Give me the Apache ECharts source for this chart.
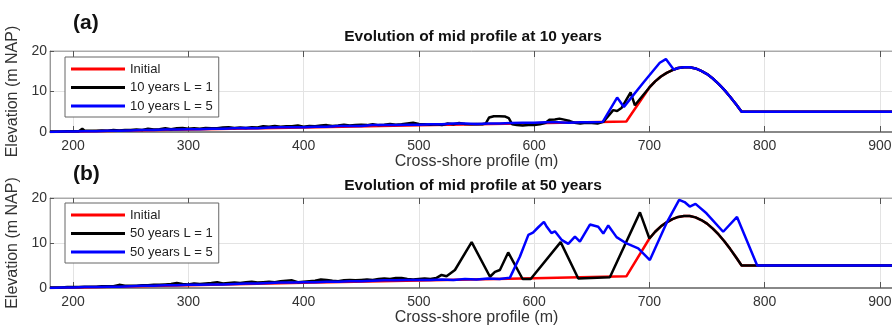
<!DOCTYPE html>
<html>
<head>
<meta charset="utf-8">
<script src="https://cdn.jsdelivr.net/npm/echarts@6/dist/echarts.min.js"></script>
<style>
html,body{margin:0;padding:0;background:#fff;}
#chart{width:892px;height:326px;}
</style>
</head>
<body>
<div id="chart"></div>
<script>
var xTicks=[200,300,400,500,600,700,800,900];
var namesA=['Initial','10 years L = 1','10 years L = 5'];
var namesB=['Initial','50 years L = 1','50 years L = 5'];

// dune crest, shared by the initial profile
var dune=[[700,11.0],[705,12.5],[710,13.7],[715,14.6],[720,15.3],[725,15.8],[730,16.0],[735,16.0],
    [740,15.7],[745,15.1],[750,14.3],[755,13.2],[760,11.9],[765,10.4],[770,8.7],[775,6.9],[780,5.0],[920,5.0]];
var duneFrom725=[[725,15.8],[730,16.0],[735,16.0],[740,15.7],[745,15.1],[750,14.3],[755,13.2],[760,11.9],
    [765,10.4],[770,8.7],[775,6.9],[780,5.0],[920,5.0]];

var initialLow=[[180,0.0],[300,0.62],[400,1.14],[500,1.66],[600,2.18],[680,2.6]];

var black10=[[180,0.1],[185,0.1],[190,0.1],[195,0.2],[200,0.2],[205,0.2],[208,0.8],[210,0.3],[215,0.3],[220,0.3],
    [225,0.4],[230,0.3],[235,0.5],[240,0.4],[245,0.5],[250,0.5],[255,0.6],[260,0.5],[265,0.8],[270,0.6],
    [275,0.7],[280,0.9],[285,0.7],[290,0.9],[295,1.0],[300,0.8],[305,0.9],[310,0.8],[315,1.0],[320,0.9],
    [325,0.9],[330,1.1],[335,1.2],[340,1.0],[345,1.1],[350,1.0],[355,1.2],[360,1.1],[365,1.4],[370,1.3],
    [375,1.5],[380,1.3],[385,1.4],[390,1.4],[395,1.6],[400,1.3],[405,1.5],[410,1.4],[415,1.6],[420,1.7],
    [425,1.5],[430,1.6],[435,1.8],[440,1.6],[445,1.7],[450,1.8],[455,1.7],[460,1.9],[465,1.7],[470,1.8],
    [475,2.0],[480,1.8],[485,1.9],[490,2.1],[495,2.3],[500,2.0],[505,1.9],[510,1.8],[515,1.9],[520,1.7],
    [525,2.1],[530,1.9],[535,2.2],[540,2.0],[545,1.9],[550,2.0],[555,1.9],[558,2.1],[561,3.6],[565,3.9],
    [570,3.9],[575,3.8],[578,3.4],[581,1.9],[585,1.7],[590,1.6],[595,1.7],[600,1.7],[605,1.9],[610,2.3],
    [613,3.0],[618,3.1],[622,3.3],[627,3.0],[631,2.7],[635,2.3],[640,2.1],[645,2.3],[650,2.2],[655,2.1],
    [660,2.5],[668.6,5.4],[672,5.2],[676,6.0],[683.7,9.8],[687.4,6.6]];

var blue10=[[180,0.0],[190,0.1],[200,0.1],[210,0.2],[220,0.2],[230,0.3],[240,0.3],[250,0.4],[260,0.5],[270,0.5],
    [280,0.6],[290,0.6],[300,0.7],[310,0.7],[320,0.8],[330,0.8],[340,0.9],[350,1.0],[360,0.9],[370,1.1],
    [380,1.2],[390,1.2],[400,1.2],[410,1.3],[420,1.3],[430,1.5],[440,1.5],[450,1.5],[460,1.7],[470,1.7],
    [480,1.7],[490,1.8],[500,1.8],[510,1.9],[520,1.9],[530,2.1],[540,2.1],[550,2.0],[560,2.1],[570,2.1],
    [580,2.2],[590,2.3],[600,2.3],[610,2.4],[620,2.4],[630,2.3],[640,2.4],[650,2.4],[659.5,2.5],
    [672,8.5],[677.9,6.2],[695,12.3],[709,17.1],[714.3,18.0],[715.7,18.4],[721.2,15.4]];

var black50=[[180,0.1],[185,0.1],[190,0.1],[195,0.2],[200,0.2],[205,0.2],[210,0.3],[215,0.3],[220,0.3],[225,0.4],
    [230,0.4],[235,0.4],[240,0.7],[245,0.5],[250,0.5],[255,0.5],[260,0.6],[265,0.6],[270,0.7],[275,0.7],
    [280,0.8],[285,0.9],[290,1.1],[295,0.9],[300,0.8],[305,1.0],[310,0.9],[315,1.0],[320,1.1],[325,1.3],
    [330,1.0],[335,1.1],[340,1.2],[345,1.1],[350,1.3],[355,1.4],[360,1.2],[365,1.3],[370,1.4],[375,1.3],
    [380,1.5],[385,1.6],[390,1.7],[395,1.3],[400,1.4],[405,1.5],[410,1.6],[415,1.9],[420,1.8],[425,1.6],
    [430,1.5],[435,1.7],[440,1.8],[445,1.7],[450,1.8],[455,1.9],[460,1.8],[465,2.0],[470,2.1],[475,2.0],
    [480,2.2],[485,2.2],[490,2.0],[495,1.9],[500,2.0],[505,2.1],[510,2.0],[515,2.2],
    [519.7,2.9],[524,2.6],[531.3,4.0],[545.8,10.2],[561.7,2.5],[566,3.6],[570.3,4.0],[577.5,7.9],[590,2.0],
    [597,2.0],[623,10.2],[638.3,2.1],[665.7,2.4],[691.8,16.8]];

var blue50=[[180,0.0],[190,0.1],[200,0.1],[210,0.2],[220,0.2],[230,0.3],[240,0.3],[250,0.4],[260,0.5],[270,0.5],
    [280,0.6],[290,0.6],[300,0.7],[310,0.7],[320,0.8],[330,0.8],[340,0.9],[350,1.0],[360,1.0],[370,1.1],
    [380,1.2],[390,1.2],[400,1.3],[410,1.3],[420,1.4],[430,1.4],[440,1.5],[450,1.5],[460,1.6],[470,1.7],
    [480,1.7],[490,1.8],[500,1.8],[510,1.8],[520,1.9],[530,1.8],[540,2.0],[550,1.9],[560,2.1],[570,2.0],
    [579,2.3],[587.7,7.0],[595,11.8],[599,12.3],[603.6,13.5],[608.5,14.7],[611,13.6],[615,12.2],[618,12.6],
    [623.8,10.7],[629.6,9.8],[635.4,11.4],[639.7,10.3],[648.4,14.1],[655.6,13.6],[660,12.1],[664.3,13.9],
    [671.5,11.3],[680.2,9.9],[690.3,8.8],[700.4,6.2],[714.8,14.4],[725.8,19.6],[730.5,19.1],[735,18.1],
    [740,18.7],[749.5,16.6],[764,12.5],[776,15.8],[793.5,5.0],[920,5.0]];

var FONT='Liberation Sans';
var TXT='#333';

function bottomAxis(gi){
    return {
        type:'value', gridIndex:gi, position:'bottom', min:180, max:920,
        name:'Cross-shore profile (m)', nameLocation:'middle', nameGap:22,
        nameTextStyle:{fontFamily:FONT,fontSize:16,color:TXT},
        axisLine:{lineStyle:{color:'#888',width:2}},
        axisTick:{inside:true,length:6,customValues:xTicks,lineStyle:{color:'#555',width:1}},
        axisLabel:{customValues:xTicks,margin:7,fontFamily:FONT,fontSize:14,color:TXT},
        splitLine:{show:true,lineStyle:{color:'#e3e3e3',width:1}}
    };
}
function topAxis(gi){
    return {
        type:'value', gridIndex:gi, position:'top', min:180, max:920,
        axisLine:{lineStyle:{color:'#aaa',width:1}},
        axisTick:{inside:true,length:6,customValues:xTicks,lineStyle:{color:'#555',width:1}},
        axisLabel:{show:false},
        splitLine:{show:false}
    };
}
function leftAxis(gi){
    return {
        type:'value', gridIndex:gi, min:0, max:20, interval:10,
        name:'Elevation (m NAP)', nameLocation:'middle', nameGap:23,
        nameTextStyle:{fontFamily:FONT,fontSize:16,color:TXT},
        axisLine:{show:true,lineStyle:{color:'#999'}},
        axisTick:{show:true,inside:true,length:4,lineStyle:{color:'#555'}},
        axisLabel:{margin:3,fontFamily:FONT,fontSize:14,color:TXT},
        splitLine:{show:true,lineStyle:{color:'#e3e3e3',width:1}}
    };
}
function line(name,data,color,xi,yi){
    return {
        name:name, type:'line', data:data, xAxisIndex:xi, yAxisIndex:yi,
        showSymbol:false, symbol:'none', color:color,
        lineStyle:{color:color,width:2.5}, animation:false
    };
}
function legendBox(names,top){
    return {
        data:names, orient:'vertical', left:65, top:top, icon:'rect',
        itemWidth:54, itemHeight:3, itemGap:4.5, padding:[5,6,4,6],
        backgroundColor:'#fff', borderColor:'#666', borderWidth:1, borderRadius:0,
        textStyle:{fontFamily:FONT,fontSize:13,color:'#222',lineHeight:14}
    };
}

var option={
    backgroundColor:'#fff',
    animation:false,
    grid:[
        {left:50,top:51,width:853,height:81,show:true,borderColor:'#aaa',borderWidth:1,outerBoundsMode:'none',containLabel:false},
        {left:50,top:198,width:853,height:90,show:true,borderColor:'#aaa',borderWidth:1,outerBoundsMode:'none',containLabel:false}
    ],
    xAxis:[bottomAxis(0),topAxis(0),bottomAxis(1),topAxis(1)],
    yAxis:[leftAxis(0),leftAxis(1)],
    legend:[legendBox(namesA,57),legendBox(namesB,203)],
    graphic:[
        {type:'text',left:73,top:13,style:{text:'(a)',font:'bold 21px "Liberation Sans"',fill:'#111'}},
        {type:'text',x:473,y:37,style:{text:'Evolution of mid profile at 10 years',font:'bold 15.5px "Liberation Sans"',fill:'#111',align:'center',verticalAlign:'middle'}},
        {type:'text',left:73,top:164,style:{text:'(b)',font:'bold 21px "Liberation Sans"',fill:'#111'}},
        {type:'text',x:473,y:186,style:{text:'Evolution of mid profile at 50 years',font:'bold 15.5px "Liberation Sans"',fill:'#111',align:'center',verticalAlign:'middle'}}
    ],
    series:[
        line(namesA[0],initialLow.concat(dune),'#ff0000',0,0),
        line(namesA[1],black10.concat(dune),'#000000',0,0),
        line(namesA[2],blue10.concat(duneFrom725),'#0000ff',0,0),
        line(namesB[0],initialLow.concat(dune),'#ff0000',2,1),
        line(namesB[1],black50.concat(dune),'#000000',2,1),
        line(namesB[2],blue50,'#0000ff',2,1)
    ]
};

var myChart=echarts.init(document.getElementById('chart'));
myChart.setOption(option);
</script>
</body>
</html>
